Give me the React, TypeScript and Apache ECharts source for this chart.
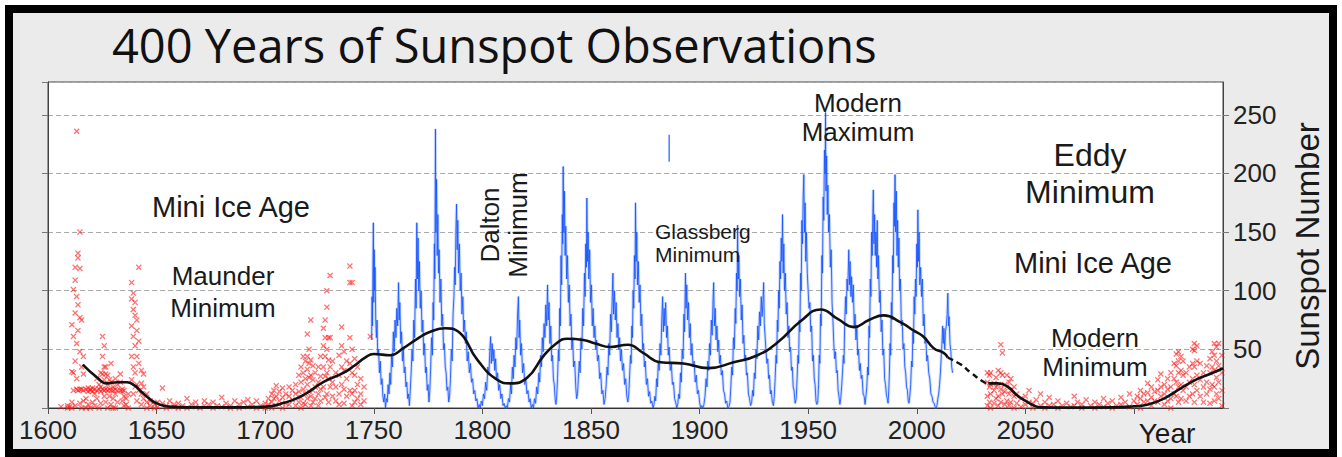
import React, { useEffect, useRef } from "react";
import * as echarts from "echarts";

const xTickYears = [1600, 1650, 1700, 1750, 1800, 1850, 1900, 1950, 2000, 2050];
const yTickValues = [50, 100, 150, 200, 250];

const observedSunspots: [number, number][] = [
  [1749.0,58],[1749.2,95],[1749.4,70],[1749.6,120],[1749.8,158],[1750.0,90],[1750.2,135],[1750.4,100],[1750.6,120],[1750.9,75],[1751.2,60],[1751.5,75],[1751.8,45],[1752.2,50],[1752.6,30],[1753,40],[1753.4,20],[1753.8,25],[1754.2,10],[1754.6,5],[1755,12],[1755.4,0],
  [1755.8,8],[1756.2,5],[1756.6,20],[1757,12],[1757.4,30],[1757.8,20],[1758.2,45],[1758.6,35],[1759,65],[1759.4,48],[1759.8,75],[1760.2,60],[1760.6,85],[1761,70],[1761.4,107],[1761.7,75],[1762,90],[1762.4,55],[1762.8,65],[1763.2,40],[1763.6,50],[1764,30],[1764.4,35],[1764.8,18],[1765.2,22],[1765.6,8],[1766,12],[1766.4,2],
  [1766.8,15],[1767.2,30],[1767.6,50],[1768,40],[1768.4,75],[1768.8,60],[1769.2,110],[1769.5,85],[1769.8,158],[1770.1,110],[1770.4,145],[1770.7,100],[1771,125],[1771.4,85],[1771.8,100],[1772.2,65],[1772.6,75],[1773,45],[1773.4,55],[1773.8,30],[1774.2,35],[1774.6,15],[1775,20],[1775.4,5],
  [1775.8,15],[1776.2,35],[1776.6,60],[1777,45],[1777.3,90],[1777.6,75],[1777.9,140],[1778.1,110],[1778.4,238],[1778.6,150],[1778.9,195],[1779.2,130],[1779.5,165],[1779.8,115],[1780.1,135],[1780.5,90],[1780.9,110],[1781.3,70],[1781.7,80],[1782.1,50],[1782.5,55],[1782.9,35],[1783.3,30],[1783.7,15],[1784.1,18],[1784.5,5],
  [1784.9,10],[1785.3,25],[1785.7,50],[1786.1,40],[1786.5,80],[1786.9,95],[1787.2,120],[1787.5,105],[1787.8,150],[1788.1,174],[1788.4,135],[1788.7,160],[1789,115],[1789.4,140],[1789.8,100],[1790.2,115],[1790.6,80],[1791,95],[1791.4,65],[1791.8,75],[1792.2,55],[1792.6,65],[1793,40],[1793.5,48],[1794,30],[1794.5,38],[1795,22],[1795.5,25],[1796,12],[1796.5,15],[1797,6],[1797.5,8],[1798,0],[1798.5,3],
  [1799,0],[1799.5,6],[1800,2],[1800.5,12],[1801,8],[1801.5,22],[1802,15],[1802.5,35],[1803,28],[1803.4,48],[1803.8,61],[1804.1,38],[1804.5,55],[1804.9,40],[1805.3,50],[1805.7,32],[1806.1,42],[1806.5,25],[1807,30],[1807.5,15],[1808,20],[1808.5,8],[1809,12],[1809.5,2],[1810,4],[1810.5,0],
  [1811,2],[1811.5,0],[1812,8],[1812.5,5],[1813,20],[1813.4,12],[1813.8,35],[1814.2,25],[1814.6,45],[1815,35],[1815.4,60],[1815.8,50],[1816.2,80],[1816.6,95],[1816.9,60],[1817.2,75],[1817.6,45],[1818,55],[1818.5,30],[1819,38],[1819.5,20],[1820,25],[1820.5,12],[1821,15],[1821.5,5],[1822,8],[1822.5,0],[1823,3],
  [1823.5,0],[1824,8],[1824.5,4],[1825,18],[1825.5,12],[1826,30],[1826.4,22],[1826.8,45],[1827.2,35],[1827.6,60],[1828,48],[1828.4,72],[1828.8,60],[1829.2,88],[1829.6,70],[1830,105],[1830.3,75],[1830.7,90],[1831.1,55],[1831.5,70],[1831.9,40],[1832.3,45],[1832.7,25],[1833.1,20],[1833.5,8],[1833.9,3],
  [1834.2,10],[1834.6,25],[1835,50],[1835.3,40],[1835.6,85],[1835.9,70],[1836.2,130],[1836.5,105],[1836.8,165],[1837,140],[1837.2,206],[1837.5,150],[1837.8,185],[1838.1,130],[1838.4,155],[1838.8,110],[1839.2,130],[1839.6,90],[1840,105],[1840.4,70],[1840.8,80],[1841.2,50],[1841.6,60],[1842,35],[1842.5,40],[1843,18],[1843.4,8],
  [1843.8,12],[1844.2,25],[1844.6,40],[1845,30],[1845.4,60],[1845.8,50],[1846.2,85],[1846.6,70],[1847,115],[1847.3,95],[1847.6,140],[1847.9,120],[1848.1,179],[1848.4,125],[1848.7,150],[1849,110],[1849.4,135],[1849.8,90],[1850.2,105],[1850.6,70],[1851,85],[1851.4,60],[1851.8,70],[1852.2,50],[1852.6,58],[1853,40],[1853.5,45],[1854,25],[1854.5,30],[1855,12],[1855.5,15],[1856,3],
  [1856.5,8],[1857,20],[1857.4,35],[1857.8,28],[1858.2,55],[1858.6,45],[1859,80],[1859.4,65],[1859.8,95],[1860.1,115],[1860.4,80],[1860.8,100],[1861.2,75],[1861.6,90],[1862,60],[1862.4,72],[1862.8,50],[1863.2,60],[1863.6,40],[1864,50],[1864.5,32],[1865,38],[1865.5,20],[1866,25],[1866.5,10],[1867,5],
  [1867.4,12],[1867.8,28],[1868.2,45],[1868.5,38],[1868.8,70],[1869.1,60],[1869.4,100],[1869.7,85],[1870,130],[1870.3,110],[1870.5,175],[1870.8,125],[1871.1,150],[1871.4,105],[1871.8,125],[1872.2,90],[1872.6,105],[1873,70],[1873.4,80],[1873.8,50],[1874.2,55],[1874.6,35],[1875,40],[1875.5,20],[1876,25],[1876.5,10],[1877,14],[1877.5,4],[1878,6],[1878.6,0],
  [1879,3],[1879.4,10],[1879.8,6],[1880.2,25],[1880.6,18],[1881,40],[1881.4,32],[1881.8,55],[1882.2,45],[1882.6,75],[1883,95],[1883.3,65],[1883.7,85],[1884,70],[1884.4,90],[1884.8,60],[1885.2,70],[1885.6,45],[1886,52],[1886.5,32],[1887,38],[1887.5,20],[1888,22],[1888.5,8],[1889,5],[1889.5,0],
  [1890,4],[1890.4,12],[1890.8,8],[1891.2,30],[1891.6,22],[1892,50],[1892.4,42],[1892.8,80],[1893.1,65],[1893.5,115],[1893.8,85],[1894.1,105],[1894.5,75],[1894.9,90],[1895.3,60],[1895.7,72],[1896.1,45],[1896.5,55],[1897,35],[1897.5,40],[1898,22],[1898.5,28],[1899,12],[1899.5,15],[1900,5],[1900.5,0],[1901,2],[1901.5,0],
  [1902,3],[1902.5,10],[1903,25],[1903.4,18],[1903.8,40],[1904.2,32],[1904.6,55],[1905,45],[1905.4,75],[1905.8,62],[1906.2,92],[1906.5,107],[1906.8,70],[1907.2,85],[1907.6,58],[1908,70],[1908.4,48],[1908.8,58],[1909.2,38],[1909.6,45],[1910,28],[1910.5,32],[1911,15],[1911.5,12],[1912,4],[1912.5,6],[1913,0],[1913.5,1],
  [1914,5],[1914.4,18],[1914.8,35],[1915.2,28],[1915.6,60],[1916,50],[1916.4,85],[1916.7,72],[1917,115],[1917.3,100],[1917.5,156],[1917.8,110],[1918.1,130],[1918.4,95],[1918.8,110],[1919.2,75],[1919.6,88],[1920,55],[1920.4,62],[1920.8,40],[1921.2,45],[1921.6,28],[1922,30],[1922.5,12],[1923,8],[1923.5,2],
  [1924,5],[1924.4,15],[1924.8,10],[1925.2,30],[1925.6,25],[1926,50],[1926.4,42],[1926.8,70],[1927.2,58],[1927.6,82],[1928,70],[1928.4,95],[1928.8,78],[1929.2,92],[1929.5,107],[1929.8,72],[1930.2,60],[1930.6,48],[1931,38],[1931.4,42],[1931.8,25],[1932.2,28],[1932.6,12],[1933,15],[1933.5,5],[1934,2],
  [1934.4,10],[1934.8,25],[1935.2,45],[1935.5,38],[1935.8,75],[1936.1,65],[1936.4,100],[1936.7,85],[1937,125],[1937.3,110],[1937.6,145],[1937.9,125],[1938.2,165],[1938.5,115],[1938.8,140],[1939.1,100],[1939.5,115],[1939.9,80],[1940.3,90],[1940.7,60],[1941.1,70],[1941.5,48],[1941.9,52],[1942.3,32],[1942.7,35],[1943.1,18],[1943.5,15],[1944,4],
  [1944.5,8],[1944.9,25],[1945.3,45],[1945.6,38],[1945.9,75],[1946.2,65],[1946.5,115],[1946.8,100],[1947.1,160],[1947.4,140],[1947.7,180],[1948,199],[1948.3,150],[1948.6,175],[1948.9,125],[1949.2,150],[1949.6,115],[1950,100],[1950.4,85],[1950.8,90],[1951.2,65],[1951.6,70],[1952,40],[1952.4,45],[1952.8,25],[1953.2,20],[1953.6,6],[1954,3],
  [1954.4,5],[1954.8,20],[1955.1,45],[1955.4,38],[1955.7,80],[1956,70],[1956.3,130],[1956.6,115],[1956.9,180],[1957.2,160],[1957.5,220],[1957.8,200],[1958,252],[1958.2,185],[1958.5,215],[1958.8,165],[1959.1,190],[1959.4,150],[1959.8,165],[1960.2,120],[1960.6,135],[1961,90],[1961.4,75],[1961.8,55],[1962.2,42],[1962.6,48],[1963,30],[1963.4,32],[1963.8,15],[1964.2,10],[1964.6,3],
  [1965,8],[1965.4,18],[1965.8,30],[1966.2,45],[1966.5,38],[1966.8,70],[1967.2,95],[1967.5,80],[1967.9,110],[1968.2,100],[1968.5,120],[1968.7,135],[1969,105],[1969.3,125],[1969.7,95],[1970,112],[1970.4,90],[1970.8,105],[1971.2,70],[1971.6,80],[1972,58],[1972.4,70],[1972.8,45],[1973.2,50],[1973.6,32],[1974,38],[1974.4,25],[1974.8,28],[1975.3,12],[1975.8,10],[1976.2,3],
  [1976.6,10],[1977,18],[1977.4,35],[1977.7,28],[1978,70],[1978.3,60],[1978.6,110],[1978.9,95],[1979.2,150],[1979.5,130],[1979.8,170],[1980,186],[1980.3,140],[1980.6,165],[1980.9,130],[1981.2,150],[1981.5,120],[1981.8,160],[1982.1,110],[1982.4,130],[1982.8,90],[1983.2,100],[1983.6,65],[1984,75],[1984.4,45],[1984.8,50],[1985.2,25],[1985.6,20],[1986,12],[1986.4,8],[1986.8,4],
  [1987.1,15],[1987.4,30],[1987.7,55],[1988,45],[1988.3,90],[1988.6,75],[1988.9,130],[1989.2,115],[1989.5,175],[1989.7,155],[1990,199],[1990.3,150],[1990.6,185],[1990.9,130],[1991.2,160],[1991.5,120],[1991.8,145],[1992.1,100],[1992.5,110],[1992.9,70],[1993.3,75],[1993.7,50],[1994.1,55],[1994.5,35],[1994.9,30],[1995.3,18],[1995.7,15],[1996.1,6],[1996.4,4],
  [1996.8,10],[1997.2,20],[1997.6,40],[1997.9,35],[1998.2,65],[1998.5,55],[1998.8,95],[1999.1,80],[1999.4,110],[1999.7,95],[2000,140],[2000.3,120],[2000.5,169],[2000.8,125],[2001.1,150],[2001.4,105],[2001.8,120],[2002.2,95],[2002.6,110],[2003,70],[2003.4,80],[2003.8,55],[2004.2,60],[2004.6,40],[2005,45],[2005.5,30],[2006,25],[2006.5,12],[2007,10],[2007.5,5],[2008,4],[2008.5,1],[2008.9,0],
  [2009.3,2],[2009.7,8],[2010.1,12],[2010.5,20],[2010.9,30],[2011.3,45],[2011.6,55],[2011.9,70],[2012.2,55],[2012.5,68],[2012.9,50],[2013.2,65],[2013.6,70],[2014,80],[2014.3,98],[2014.6,70],[2014.9,78],[2015.3,55],[2015.7,48],[2016.1,35],[2016.5,30],
];

// isolated stray segment near 1886
const straySegment: [number, number][] = [[1886.0, 210], [1886.0, 233]];

// early telescope observations: [year, values at that year]
const earlyObservations: [number, number[]][] = [
  [1606, [1]], [1609, [2, 0]], [1610, [1]],
  [1611, [71, 31, 5, 0]], [1611.7, [101, 61, 30, 15]], [1612.5, [120, 109, 81, 40, 2]],
  [1613.2, [236, 95, 55, 25, 16]], [1613.8, [132, 128, 88, 66, 15]], [1614.7, [150, 119, 77, 48, 16, 4]],
  [1615.5, [75, 35, 16, 0]], [1616.3, [44, 29, 15, 6]], [1617.5, [16, 8, 0]], [1618.5, [17, 14, 3]],
  [1619.5, [15, 16, 0]], [1620.5, [17, 14, 5]], [1621.5, [16, 12, 2]], [1622.5, [15, 25, 8]],
  [1623.5, [16, 20, 0]], [1624.3, [30, 18, 14, 4]], [1625.1, [61, 44, 29, 16]], [1625.9, [53, 35, 24, 15, 10]],
  [1626.6, [35, 29, 16, 5]], [1627.5, [28, 20, 15, 0]], [1628.3, [24, 16, 10]], [1629, [38, 22, 15, 3]],
  [1630, [18, 15, 8, 0]], [1631, [25, 16, 12, 0]], [1632, [15, 20, 5]], [1633.3, [29, 22, 15]],
  [1634.2, [16, 14, 6]], [1635, [15, 10, 2]], [1636, [8, 3]], [1637, [12, 0]],
  [1638.5, [107, 93, 70, 44, 24]], [1639.3, [98, 84, 61, 35, 12]], [1640.1, [90, 79, 53, 30, 18]],
  [1640.9, [75, 66, 44, 20, 6]], [1641.8, [120, 57, 38, 15]], [1643, [32, 21, 12, 3]], [1644, [29, 18, 8]],
  [1645.5, [12, 5, 0]], [1647, [6, 2]], [1649, [3, 0]], [1650.5, [5, 1]], [1652.7, [17, 4]], [1654.5, [2, 0]],
  [1656, [6]], [1658, [1, 3]], [1660, [0, 4]], [1662, [2]], [1664, [8, 0]], [1666, [3]], [1668, [1, 5]],
  [1670, [0]], [1672, [6, 2]], [1674, [3]], [1676, [0, 5]], [1678, [2]], [1680, [9, 1]], [1682, [4]],
  [1684, [0, 2]], [1686, [6]], [1688, [3, 0]], [1690, [5]], [1692, [1, 7]], [1694, [3]], [1696, [0, 6]],
  [1698, [2]], [1700, [4, 0]], [1701.5, [8, 3]], [1703, [12, 5, 0]], [1704, [15, 8]], [1705.1, [19, 10, 2]],
  [1706.5, [14, 6]], [1708, [17, 9, 0]], [1709.5, [12, 4]], [1711, [18, 10, 3]], [1712.5, [15, 7]],
  [1714, [20, 12, 2]], [1715.5, [28, 14, 5]], [1716.5, [35, 22, 9, 0]], [1717.5, [44, 30, 16, 4]],
  [1718.5, [40, 25, 12, 3]], [1719.4, [63, 44, 33, 20, 8]], [1720.2, [50, 38, 26, 14]], [1721, [75, 41, 28, 10, 2]],
  [1722, [36, 24, 15, 5]], [1723, [30, 18, 8]], [1724.5, [35, 22, 12, 2]], [1725.5, [44, 27, 16, 6]],
  [1726.8, [68, 53, 35, 18]], [1727.6, [75, 60, 44, 27, 9]], [1728.4, [100, 86, 50, 30, 12]], [1729.2, [60, 41, 25, 5]],
  [1729.9, [113, 60, 35, 18]], [1731, [40, 22, 10]], [1732.5, [30, 18, 6]], [1734, [45, 28, 12, 3]],
  [1735.2, [69, 53, 35, 20]], [1736.3, [48, 32, 16, 4]], [1737.5, [40, 25, 10]], [1739, [121, 107, 60, 38, 15]],
  [1740, [107, 50, 30, 12, 2]], [1741.2, [42, 28, 15, 5]], [1742.5, [35, 20, 8]], [1744, [25, 12, 3]],
  [1745.5, [18, 6]], [1748.4, [61]],
];

// projected future minimum: [year, values at that year]
const projectedObservations: [number, number[]][] = [
  [2032.5, [30, 22, 10, 2]], [2033.5, [28, 18, 5]], [2034, [30, 20, 12, 0]], [2035.6, [21, 15, 4]],
  [2036.5, [26, 18, 8]], [2037.5, [32, 20, 10, 2]], [2038.7, [54, 30, 16, 5]], [2039.4, [47, 28, 12]],
  [2040.5, [20, 14, 3]], [2041.5, [28, 18, 6]], [2042.5, [22, 12, 2]], [2043.3, [25, 15, 5]],
  [2044.8, [18, 10, 0]], [2046, [12, 4]], [2048, [8, 1]], [2050, [10, 3]], [2051.7, [15, 5]],
  [2053.5, [4, 0]], [2055, [7]], [2057, [2, 12]], [2059, [5, 0]], [2061, [9, 2]], [2063, [3]],
  [2065, [6, 0]], [2067, [2]], [2069, [4]], [2071, [1]], [2072.5, [10, 2]], [2074, [5]], [2076, [0, 3]],
  [2078, [7]], [2080, [2]], [2082, [5, 0]], [2084, [3]], [2086, [8, 1]], [2088, [4]], [2090, [0, 6]],
  [2092, [2]], [2094, [9, 3]], [2096, [5]], [2098, [12, 1]], [2100, [6]], [2101.5, [10, 3]],
  [2103, [15, 8, 0]], [2104.5, [12, 5]], [2106.3, [21, 13, 6]], [2108, [18, 9, 2]], [2109.5, [14, 6]],
  [2111, [24, 15, 5]], [2112.4, [29, 18, 10]], [2114, [20, 12, 3]], [2115.5, [25, 16, 6]],
  [2117, [30, 18, 8, 0]], [2118.5, [38, 25, 12]], [2119.5, [46, 36, 22, 10]], [2120.5, [48, 40, 30, 18, 5]],
  [2121.7, [44, 32, 20, 8]], [2122.6, [40, 28, 15]], [2124, [30, 18, 6]], [2125.5, [35, 22, 10]],
  [2127, [50, 38, 25, 12]], [2127.8, [55, 49, 35, 20, 5]], [2129, [53, 40, 28, 15]], [2130.5, [38, 24, 10]],
  [2132, [30, 18, 5]], [2133.5, [36, 22, 12]], [2135, [42, 30, 16, 4]], [2136, [48, 35, 20]],
  [2137, [55, 45, 32, 18, 6]], [2138, [52, 40, 26, 12]], [2139, [55, 36, 22, 8]], [2140.5, [45, 30, 15, 2]],
];

// smoothed trend
const trendPast: [number, number][] = [
  [1616,37],[1622.6,26],[1627,21],[1632,22],[1636.4,22],[1640,19],[1642.4,15],[1646,9],[1650,4],[1657.6,1],
  [1670,0.5],[1685,0.5],[1699,1],[1708,4],[1717.5,11],[1726.7,22],[1736,30],[1741,36],[1746,43],[1750,46],
  [1757.6,45],[1763.6,51],[1770,59],[1776,65],[1783,68],[1789,65],[1797.7,41],[1806.9,24],[1813,21],
  [1820.7,26],[1828,44],[1834,55],[1839,59],[1846.5,58],[1852,55],[1859,52],[1867,54],[1874,47],[1882,39],
  [1892.6,38],[1904,34],[1915.7,39],[1926.7,45],[1936,56],[1946.5,74],[1955.8,84],[1963.6,76],[1971,69],
  [1978,75],[1984.8,79],[1992.6,73],[1998.6,66],[2003,61],[2007.8,51],[2012.4,47],[2014.3,43],
];
const trendGap: [number, number][] = [[2014.3,43],[2020.3,37],[2025,30],[2031,22],[2033,21]];
const trendFuture: [number, number][] = [
  [2033,21],[2037.3,21],[2042,18],[2046,11],[2049.3,7],[2054,2],[2057,0.5],[2070,0.3],[2090,0.5],
  [2100,1.5],[2106.5,3],[2113.8,8],[2121.7,17],[2129.5,25],[2135,29],[2140,33],[2141,34],
];

const flatten = (cols: [number, number[]][]) =>
  cols.flatMap(([yr, vals]) => vals.map((v) => [yr, v] as [number, number]));

const CROSS = "path://M0,1.5L1.5,0L5,3.5L8.5,0L10,1.5L6.5,5L10,8.5L8.5,10L5,6.5L1.5,10L0,8.5L3.5,5Z";
const SANS = "'Liberation Sans', Arial, sans-serif";

function label(text: string, x: number, y: number, size: number, extra: any = {}) {
  return {
    type: "text",
    x,
    y,
    z: 50,
    rotation: extra.rotation || 0,
    style: {
      text,
      x: 0,
      y: 0,
      fill: extra.fill || "#1a1a1a",
      fontSize: size,
      fontFamily: extra.fontFamily || SANS,
      align: extra.align || "center",
      verticalAlign: "middle",
      lineHeight: extra.lineHeight || size,
    },
  };
}

export default function App() {
  const ref = useRef<HTMLDivElement>(null);
  useEffect(() => {
    const chart = echarts.init(ref.current!, null, { renderer: "svg" });
    const yMax = 278;
    const option: any = {
      animation: false,
      backgroundColor: "#ffffff",
      grid: {
        left: 48, right: 119, top: 82, bottom: 49,
        show: true, backgroundColor: "#ffffff", borderColor: "#444", borderWidth: 1,
      },
      xAxis: {
        type: "value", min: 1600, max: 2141, interval: 50,
        axisLine: { show: true, lineStyle: { color: "#333", width: 1 } },
        axisTick: { show: true, length: 6, lineStyle: { color: "#555" } },
        axisLabel: {
          fontSize: 26, fontFamily: SANS, color: "#222", margin: 9, showMaxLabel: false,
          formatter: (v: number) => (xTickYears.includes(v) ? String(v) : ""),
        },
        splitLine: { show: false },
      },
      yAxis: [
        {
          type: "value", position: "right", min: 0, max: yMax, interval: 50,
          axisLine: { show: true, lineStyle: { color: "#444" } },
          axisTick: { show: true, length: 6, lineStyle: { color: "#777" } },
          axisLabel: {
            fontSize: 26, fontFamily: SANS, color: "#222", margin: 10, showMaxLabel: false,
            formatter: (v: number) => (yTickValues.includes(v) ? String(v) : ""),
          },
          splitLine: { show: true, lineStyle: { color: "#aaa", type: [5, 3], width: 1 } },
        },
        {
          type: "value", position: "left", min: 0, max: yMax, interval: 50,
          axisLine: { show: true, lineStyle: { color: "#444" } },
          axisTick: { show: true, length: 6, lineStyle: { color: "#777" } },
          axisLabel: { show: false },
          splitLine: { show: false },
        },
      ],
      graphic: [
        {
          type: "rect", z: -100, silent: true,
          shape: { x: 9, y: 9, width: 1324, height: 444 },
          style: { fill: "#ebebeb", stroke: "#000", lineWidth: 8 },
        },
        label("400 Years of Sunspot Observations", 112, 45, 47, { align: "left", fontFamily: "'Open Sans', sans-serif", fill: "#111" }),
        label("Mini Ice Age", 231, 207, 29),
        label("Maunder\nMinimum", 223, 292, 26, { lineHeight: 32 }),
        label("Dalton\nMinimum", 504, 225, 26, { lineHeight: 28, rotation: Math.PI / 2 }),
        label("Glassberg\nMinimum", 655, 243, 21, { lineHeight: 23, align: "left" }),
        label("Modern\nMaximum", 858, 117, 26, { lineHeight: 29 }),
        label("Eddy\nMinimum", 1090, 173, 32, { lineHeight: 37 }),
        label("Mini Ice Age", 1093, 263, 29),
        label("Modern\nMinimum", 1095, 352, 26, { lineHeight: 29 }),
        label("Year", 1167, 433, 28),
        label("Sunspot Number", 1307, 246, 33, { rotation: Math.PI / 2 }),
      ],
      series: [
        {
          type: "line", data: observedSunspots, showSymbol: false, silent: true,
          lineStyle: { color: "rgba(90,140,255,0.3)", width: 3 }, z: 2,
        },
        {
          type: "line", data: observedSunspots, showSymbol: false, silent: true,
          lineStyle: { color: "rgba(25,85,255,0.85)", width: 1 }, z: 3,
        },
        {
          type: "line", data: straySegment, showSymbol: false, silent: true,
          lineStyle: { color: "#4a7cff", width: 1.5 }, z: 3,
        },
        {
          type: "scatter", data: flatten(earlyObservations), symbol: CROSS, symbolSize: 6, silent: true,
          itemStyle: { color: "rgba(255,20,20,0.75)" }, z: 4,
        },
        {
          type: "scatter", data: flatten(projectedObservations), symbol: CROSS, symbolSize: 6, silent: true,
          itemStyle: { color: "rgba(255,20,20,0.75)" }, z: 4,
        },
        {
          type: "line", data: trendPast, smooth: 0.5, showSymbol: false, silent: true,
          lineStyle: { color: "#111", width: 2.6 }, z: 6,
        },
        {
          type: "line", data: trendGap, smooth: 0.5, showSymbol: false, silent: true,
          lineStyle: { color: "#111", width: 2.4, type: [6, 4] }, z: 6,
        },
        {
          type: "line", data: trendFuture, smooth: 0.5, showSymbol: false, silent: true,
          lineStyle: { color: "#111", width: 2.6 }, z: 6,
        },
      ],
    };
    chart.setOption(option);
    return () => chart.dispose();
  }, []);
  return (
    <div
      ref={ref}
      style={{ position: "absolute", left: 0, top: 0, width: 1342, height: 457 }}
    />
  );
}
